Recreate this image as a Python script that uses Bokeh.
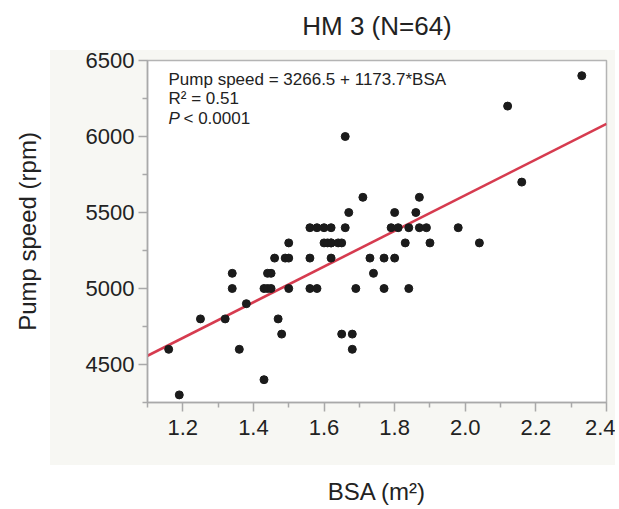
from bokeh.plotting import figure
from bokeh.models import (ColumnDataSource, FixedTicker, Label, LinearAxis,
                          Range1d, CustomJSTickFormatter)
from bokeh.embed import file_html
from bokeh.resources import INLINE

# ---- data ----
bsa = [1.19,
       1.43,
       1.16, 1.36, 1.68,
       1.48, 1.65, 1.68,
       1.25, 1.32, 1.47,
       1.38,
       1.34, 1.43, 1.44, 1.45, 1.50, 1.56, 1.58, 1.69, 1.77, 1.84,
       1.34, 1.44, 1.45, 1.74,
       1.46, 1.49, 1.50, 1.56, 1.62, 1.73, 1.77, 1.80,
       1.50, 1.60, 1.61, 1.62, 1.62, 1.64, 1.65, 1.83, 1.90, 2.04,
       1.56, 1.58, 1.60, 1.62, 1.66, 1.79, 1.81, 1.84, 1.87, 1.89, 1.98,
       1.67, 1.80, 1.86,
       1.71, 1.87,
       2.16,
       1.66,
       2.12,
       2.33]
pump_speed = [4300,
              4400,
              4600, 4600, 4600,
              4700, 4700, 4700,
              4800, 4800, 4800,
              4900,
              5000, 5000, 5000, 5000, 5000, 5000, 5000, 5000, 5000, 5000,
              5100, 5100, 5100, 5100,
              5200, 5200, 5200, 5200, 5200, 5200, 5200, 5200,
              5300, 5300, 5300, 5300, 5300, 5300, 5300, 5300, 5300, 5300,
              5400, 5400, 5400, 5400, 5400, 5400, 5400, 5400, 5400, 5400, 5400,
              5500, 5500, 5500,
              5600, 5600,
              5700,
              6000,
              6200,
              6400]

intercept = 3266.5
slope = 1173.7

x_ticks = [1.2, 1.4, 1.6, 1.8, 2.0, 2.2, 2.4]
x_tick_labels = ["1.2", "1.4", "1.6", "1.8", "2.0", "2.2", "2.4"]
x_minor_ticks = [1.1, 1.3, 1.5, 1.7, 1.9, 2.1, 2.3]
y_ticks = [4500, 5000, 5500, 6000, 6500]
y_tick_labels = ["4500", "5000", "5500", "6000", "6500"]
y_minor_ticks = [4250, 4750, 5250, 5750, 6250]

title_text = "HM 3 (N=64)"
x_label = "BSA (m\u00b2)"
y_label = "Pump speed (rpm)"
equation_text = "Pump speed = 3266.5 + 1173.7*BSA"
r2_text = "R\u00b2 = 0.51"
p_symbol = "P"
p_value_text = "< 0.0001"

FONT = "Liberation Sans"
TEXT = "#222222"
AXIS_GREY = "#a9a9a9"
PANEL = "#f7f7f3"

p = figure(width=615, height=507,
           x_range=Range1d(1.1, 2.4), y_range=Range1d(4250, 6500),
           output_backend="svg", toolbar_location=None,
           min_border_left=147, min_border_right=9,
           min_border_top=60, min_border_bottom=101)

# transparent border; the beige panel is painted behind the canvas by CSS
p.border_fill_color = None
p.background_fill_color = "white"
p.outline_line_color = "#b4b4b4"
p.outline_line_width = 1.5
p.styles = {
    "background": (f"linear-gradient({PANEL}, {PANEL}) 50px 50px / 565px 415px no-repeat, white"),
}
p.xgrid.visible = False
p.ygrid.visible = False

# the figure's own axes
xax = p.below[0]
yax = p.left[0]

xax.ticker = FixedTicker(ticks=x_ticks, minor_ticks=x_minor_ticks)
yax.ticker = FixedTicker(ticks=y_ticks, minor_ticks=y_minor_ticks)
xax.formatter = CustomJSTickFormatter(
    args=dict(labels=dict(zip([f"{t:.1f}" for t in x_ticks], x_tick_labels))),
    code="return labels[tick.toFixed(1)];")
yax.formatter = CustomJSTickFormatter(
    args=dict(labels=dict(zip([f"{t:.0f}" for t in y_ticks], y_tick_labels))),
    code="return labels[tick.toFixed(0)];")
xax.axis_label = x_label
yax.axis_label = y_label

for ax in (xax, yax):
    ax.axis_line_color = AXIS_GREY
    ax.axis_line_width = 1.5
    ax.major_tick_line_color = AXIS_GREY
    ax.major_tick_line_width = 1.5
    ax.minor_tick_line_color = AXIS_GREY
    ax.minor_tick_line_width = 1.5
    ax.major_tick_in = 0
    ax.major_tick_out = 9
    ax.minor_tick_in = 0
    ax.minor_tick_out = 5
    ax.major_label_text_font = FONT
    ax.major_label_text_font_size = "22px"
    ax.major_label_text_color = TEXT
    ax.axis_label_text_font = FONT
    ax.axis_label_text_font_size = "24px"
    ax.axis_label_text_font_style = "normal"
    ax.axis_label_text_color = TEXT

xax.major_label_standoff = 8
yax.major_label_standoff = 4
xax.axis_label_standoff = 40
yax.axis_label_standoff = 42

# title: label of a tick-less axis above the frame
title_axis = LinearAxis(axis_label=title_text, ticker=FixedTicker(ticks=[], minor_ticks=[]),
                        axis_line_color=None, major_tick_line_color=None,
                        minor_tick_line_color=None, major_tick_out=0,
                        minor_tick_out=0, major_label_standoff=0,
                        axis_label_text_font=FONT, axis_label_text_font_size="26px",
                        axis_label_text_font_style="normal",
                        axis_label_text_color=TEXT, axis_label_standoff=20)
p.add_layout(title_axis, "above")

# regression line
src = ColumnDataSource(data=dict(bsa=bsa, pump=pump_speed))
line_x = [p.x_range.start, p.x_range.end]
line_y = [intercept + slope * v for v in line_x]
p.line(line_x, line_y, line_color="#d63b4f", line_width=2.6)

# points
p.scatter(x="bsa", y="pump", source=src, size=8,
          fill_color="#1b1b1b", line_color="#1b1b1b")

# statistics text
common = dict(x_units="screen", y_units="screen", text_font=FONT,
              text_font_size="17px", text_color=TEXT, text_baseline="middle")
p.add_layout(Label(x=21, y=323, text=equation_text, **common))
p.add_layout(Label(x=21, y=304, text=r2_text, **common))
p.add_layout(Label(x=21, y=284, text=p_symbol, text_font_style="italic", **common))
p.add_layout(Label(x=36, y=284, text=p_value_text, **common))

open("out.html", "w").write(file_html(p, INLINE))
